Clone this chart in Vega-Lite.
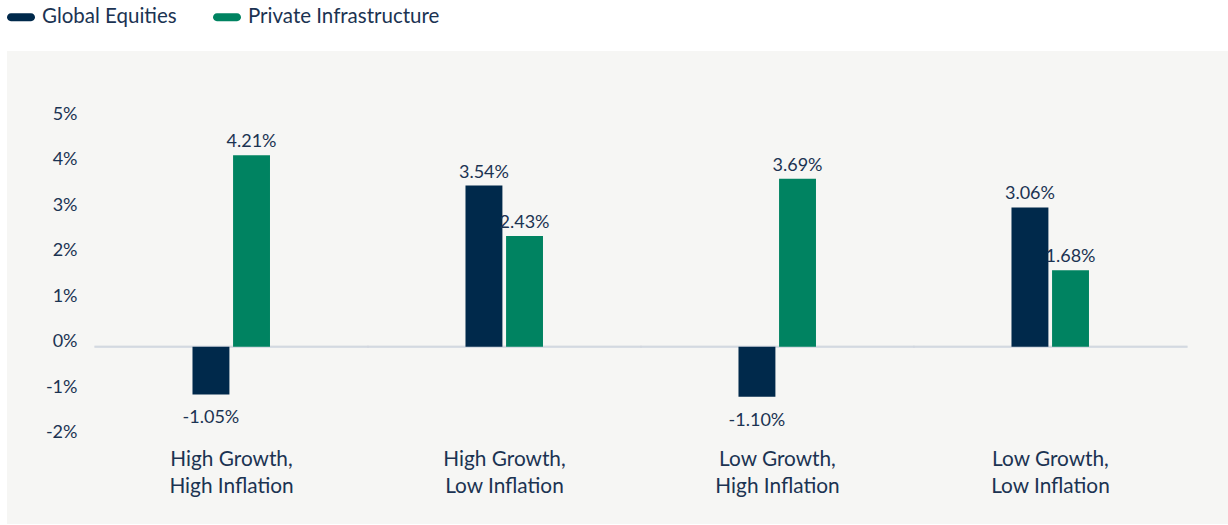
{
  "$schema": "https://vega.github.io/schema/vega-lite/v6.json",
  "width": 1221,
  "height": 473,
  "autosize": {"type": "none"},
  "padding": {"left": 7, "top": 51, "right": 0, "bottom": 1},
  "background": "#ffffff",
  "config": {
    "view": {"stroke": null, "fill": "#f6f6f4"},
    "font": "Lato",
    "locale": {"number": {"decimal": ".", "thousands": ",", "grouping": [3], "currency": ["$", ""], "minus": "-"}}
  },
  "data": {
    "values": [
      {"scenario": "High Growth, High Inflation", "series": "Global Equities", "value": -0.0105},
      {"scenario": "High Growth, High Inflation", "series": "Private Infrastructure", "value": 0.0421},
      {"scenario": "High Growth, Low Inflation", "series": "Global Equities", "value": 0.0354},
      {"scenario": "High Growth, Low Inflation", "series": "Private Infrastructure", "value": 0.0243},
      {"scenario": "Low Growth, High Inflation", "series": "Global Equities", "value": -0.0110},
      {"scenario": "Low Growth, High Inflation", "series": "Private Infrastructure", "value": 0.0369},
      {"scenario": "Low Growth, Low Inflation", "series": "Global Equities", "value": 0.0306},
      {"scenario": "Low Growth, Low Inflation", "series": "Private Infrastructure", "value": 0.0168}
    ]
  },
  "encoding": {
    "x": {
      "field": "scenario",
      "type": "nominal",
      "sort": null,
      "scale": {"paddingInner": 0, "paddingOuter": 0.2363, "align": 0.682},
      "axis": {
        "title": null,
        "domain": false,
        "ticks": false,
        "tickSize": 0,
        "grid": false,
        "labelAngle": 0,
        "offset": -59,
        "labelPadding": 0,
        "labelBaseline": "alphabetic",
        "labelFontSize": 20.8,
        "labelColor": "#1b3352",
        "labelLineHeight": 27,
        "labelExpr": "[slice(datum.label, 0, indexof(datum.label, ',') + 1), slice(datum.label, indexof(datum.label, ',') + 2)]"
      }
    }
  },
  "layer": [
    {
      "mark": {"type": "tick", "orient": "horizontal", "size": 274, "thickness": 2, "color": "#d0d5de"},
      "encoding": {
        "y": {"datum": 0, "type": "quantitative"}
      }
    },
    {
      "mark": {"type": "bar"},
      "encoding": {
        "xOffset": {"field": "series", "type": "nominal", "sort": null, "scale": {"range": [97.5, 175], "paddingInner": 0.09, "paddingOuter": 0}},
        "y": {
          "field": "value",
          "type": "quantitative",
          "scale": {"domain": [-0.039, 0.065], "nice": false, "zero": false},
          "axis": {
            "title": null,
            "values": [-0.02, -0.01, 0, 0.01, 0.02, 0.03, 0.04, 0.05],
            "format": ".0%",
            "domain": false,
            "ticks": false,
            "tickSize": 0,
            "grid": false,
            "offset": -70,
            "labelPadding": 0,
            "labelBaseline": "alphabetic",
            "labelFontSize": 18,
            "labelColor": "#1b3352"
          }
        },
        "color": {
          "field": "series",
          "type": "nominal",
          "sort": null,
          "scale": {"domain": ["Global Equities", "Private Infrastructure"], "range": ["#00294b", "#008361"]},
          "legend": {
            "title": null,
            "orient": "none",
            "legendX": 0,
            "legendY": -48,
            "direction": "horizontal",
            "padding": 0,
            "symbolType": "M-0.72,-0.28 L0.72,-0.28 A0.28,0.28 0 0 1 0.72,0.28 L-0.72,0.28 A0.28,0.28 0 0 1 -0.72,-0.28 Z",
            "symbolSize": 784,
            "symbolStrokeWidth": 0,
            "labelFontSize": 20.5,
            "labelLimit": 0,
            "labelColor": "#1b3352",
            "labelOffset": 7,
            "columnPadding": 36
          }
        }
      }
    },
    {
      "transform": [{"filter": "datum.value >= 0"}],
      "mark": {"type": "text", "baseline": "alphabetic", "dy": -8, "fontSize": 18, "color": "#1b3352"},
      "encoding": {
        "xOffset": {"field": "series", "type": "nominal", "sort": null, "scale": {"range": [97.5, 175], "paddingInner": 0.09, "paddingOuter": 0}},
        "y": {"field": "value", "type": "quantitative"},
        "text": {"field": "value", "type": "quantitative", "format": ".2%"}
      }
    },
    {
      "transform": [{"filter": "datum.value < 0"}],
      "mark": {"type": "text", "baseline": "alphabetic", "dy": 29, "fontSize": 18, "color": "#1b3352"},
      "encoding": {
        "xOffset": {"field": "series", "type": "nominal", "sort": null, "scale": {"range": [97.5, 175], "paddingInner": 0.09, "paddingOuter": 0}},
        "y": {"field": "value", "type": "quantitative"},
        "text": {"field": "value", "type": "quantitative", "format": ".2%"}
      }
    }
  ]
}
